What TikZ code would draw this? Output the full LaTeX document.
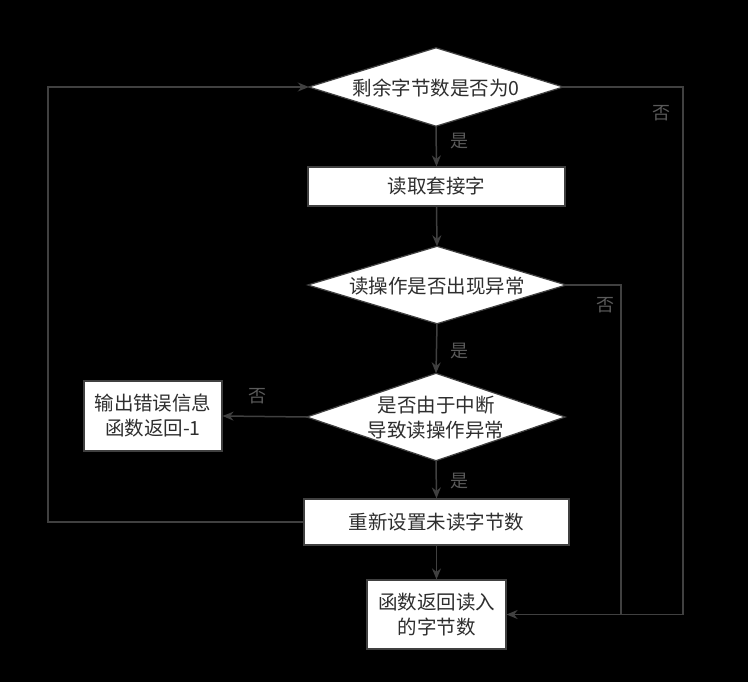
\documentclass[tikz,border=0pt]{standalone}
\usepackage{fontspec}
\setmainfont{Noto Sans CJK SC}
\usetikzlibrary{shapes.geometric,arrows.meta}
\definecolor{ln}{RGB}{64,64,64}
\definecolor{lab}{RGB}{90,90,90}
\begin{document}
\begin{tikzpicture}[x=1pt,y=-1pt,
  every node/.style={font=\fontsize{19.5}{25}\selectfont, text=black!82},
  proc/.style={draw=ln,line width=1.2pt,fill=white,rectangle,inner sep=0pt,align=center},
  frame/.style={draw=none,rectangle,inner sep=0pt,align=center},
  conn/.style={draw=ln,line width=1.5pt,-{Stealth[length=11pt,width=9pt]}},
  plain/.style={draw=ln,line width=1.5pt},
  lbl/.style={text=lab,font=\fontsize{18}{20}\selectfont}]
\fill[black] (0,0) rectangle (748,682);
\useasboundingbox (0,0) rectangle (748,682);
% decisions: invisible frames give named anchors, filled rhombi drawn exactly
\node[frame,minimum width=254pt,minimum height=78pt] (d1) at (436,87) {};
\fill[white,draw=ln,line width=1.2pt] (d1.west)--(d1.north)--(d1.east)--(d1.south)--cycle;
\node at (436,88) {剩余字节数是否为0};
\node[proc,minimum width=257pt,minimum height=39pt] (b1) at (436.5,186.5) {读取套接字};
\node[frame,minimum width=258pt,minimum height=77pt] (d2) at (437,285) {};
\fill[white,draw=ln,line width=1.2pt] (d2.west)--(d2.north)--(d2.east)--(d2.south)--cycle;
\node at (437,286) {读操作是否出现异常};
\node[frame,minimum width=258pt,minimum height=87pt] (d3) at (436,417) {};
\fill[white,draw=ln,line width=1.2pt] (d3.west)--(d3.north)--(d3.east)--(d3.south)--cycle;
\node[align=center] at (436,418) {是否由于中断\\导致读操作异常};
\node[proc,minimum width=138pt,minimum height=70pt] (err) at (153,416) {输出错误信息\\函数返回-1};
\node[proc,minimum width=265pt,minimum height=46pt] (reset) at (436.5,522) {重新设置未读字节数};
\node[proc,minimum width=139pt,minimum height=69pt] (ret) at (436.5,614.5) {函数返回读入\\的字节数};
% connectors
\draw[conn] (d1.south) -- (b1.north);
\draw[conn] (b1.south) -- (d2.north);
\draw[conn] (d2.south) -- (d3.north);
\draw[conn] (d3.south) -- (reset.north);
\draw[conn] (reset.south) -- (ret.north);
\draw[conn] (d3.west) -- (err.east);
\draw[conn] (d1.east) -- (683,87) |- (ret.east);
\draw[plain] (d2.east) -- (621,285) -- (621,615);
\draw[conn] (reset.west) -- (48,522) |- (d1.west);
% labels
\node[lbl] at (661,113) {否};
\node[lbl] at (459,141) {是};
\node[lbl] at (605,305) {否};
\node[lbl] at (459,351) {是};
\node[lbl] at (257,396) {否};
\node[lbl] at (459,481) {是};
\end{tikzpicture}
\end{document}
